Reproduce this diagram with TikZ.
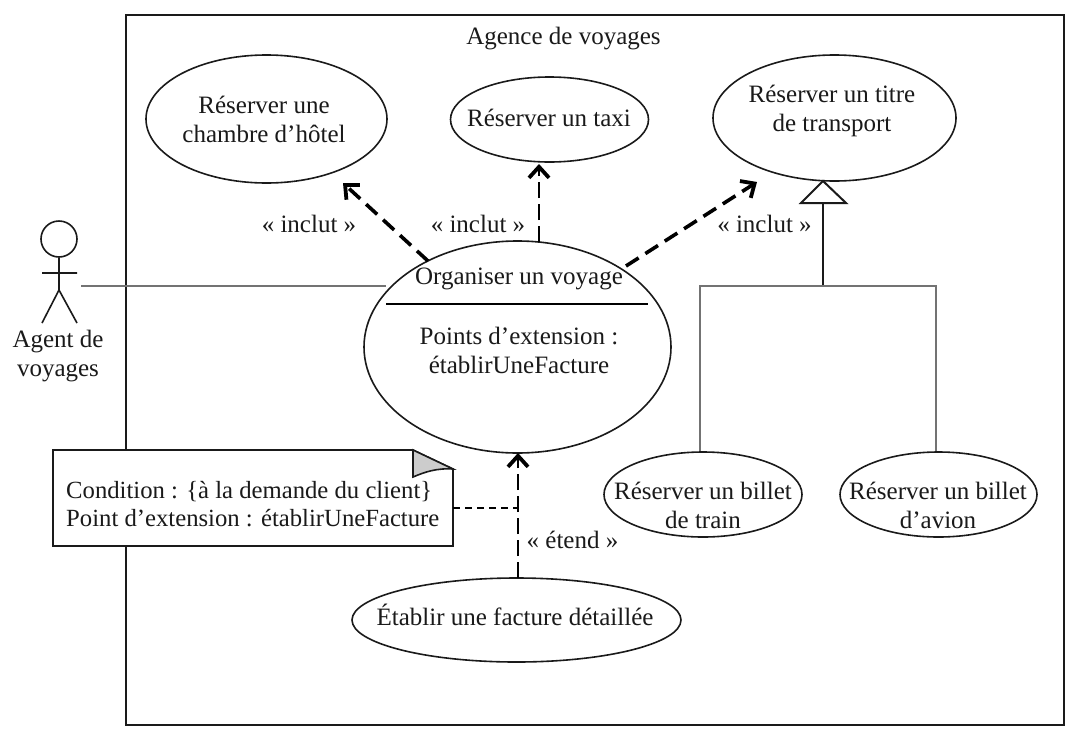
\documentclass[tikz,border=0pt]{standalone}
\usepackage{fontspec}
\setmainfont{Liberation Serif}
\usetikzlibrary{shapes.geometric,arrows.meta}
\definecolor{ink}{HTML}{1A1A1A}
\tikzset{
  x=1pt,y=-1pt,
  every node/.style={font=\fontsize{25}{29}\selectfont,text=ink},
  uc/.style={draw=ink,line width=1.6pt,ellipse,fill=white,inner sep=0pt,align=center},
  lab/.style={inner sep=0pt,align=center},
  dep/.style={draw=black,line width=3.6pt,dash pattern=on 15pt off 8pt,-{Straight Barb[length=11pt,width=20pt,line width=3.8pt]}},
  plain/.style={draw=ink,line width=1.6pt},
  assoc/.style={draw=black!55,line width=2pt},
}
\begin{document}
\begin{tikzpicture}
\useasboundingbox[fill=white] (0,0) rectangle (1065,731);
\node[draw=ink,line width=1.8pt,minimum width=938pt,minimum height=710pt,inner sep=0pt,anchor=north west] (sys) at (125,14) {};
\node[lab] (title) at (563.5,39) {Agence de voyages};

\node[uc,minimum width=241pt,minimum height=128pt] (hotel) at (266.5,119) {};
\node[lab] (hotelt) at (264,119) {Réserver une\\chambre d’hôtel};
\node[uc,minimum width=198pt,minimum height=85pt] (taxi) at (549.5,119.5) {};
\node[lab] (taxit) at (549,118) {Réserver un taxi};
\node[uc,minimum width=243pt,minimum height=126pt] (titre) at (834.5,118) {};
\node[lab] (titret) at (832,111) {Réserver un titre\\de transport};

\node[uc,minimum width=307pt,minimum height=212pt] (org) at (517.5,347) {};
\node[lab] (orgt) at (519,279) {Organiser un voyage};
\coordinate (sl) at (386,304);
\coordinate (sr) at (648,304);
\draw[draw=black,line width=1.6pt] (sl) -- (sr);
\node[lab] (pts) at (519,350) {Points d’extension :\\établirUneFacture};

\node[uc,minimum width=198pt,minimum height=85pt] (train) at (703,494.5) {};
\node[lab] (traint) at (703,505) {Réserver un billet\\de train};
\node[uc,minimum width=197pt,minimum height=85pt] (avion) at (938.5,494.5) {};
\node[lab] (aviont) at (938,505) {Réserver un billet\\d’avion};
\node[uc,minimum width=329pt,minimum height=84pt] (fact) at (516.5,620) {};
\node[lab] (factt) at (515,615) {Établir une facture détaillée};

% actor
\node[circle,draw=ink,line width=1.6pt,minimum size=36pt,inner sep=0pt] (head) at (59,239) {};
\coordinate (hip) at (59,290);
\coordinate (armL) at (42,273);
\coordinate (armR) at (77,273);
\coordinate (legL) at (42,323);
\coordinate (legR) at (77,323);
\draw[plain] (head.south) -- (hip) (armL) -- (armR) (legL) -- (hip) -- (legR);
\node[lab] (agent) at (58,356) {Agent de\\voyages};

% association
\coordinate (assA) at (81,286);
\coordinate (assB) at (386,286);
\draw[assoc] (assA) -- (assB);

% includes
\coordinate (i1s) at (428,261);
\coordinate (i1e) at (343,183);
\coordinate (i2s) at (539,242);
\coordinate (i2e) at (539,164);
\coordinate (i3s) at (626,266);
\coordinate (i3e) at (757,182);
\draw[dep] (i1s) -- (i1e);
\draw[dep,line width=2.6pt,dash pattern=on 16pt off 6pt] (i2s) -- (i2e);
\draw[dep] (i3s) -- (i3e);
\node[lab] (l1) at (309,224) {« inclut »};
\node[lab] (l2) at (478,224) {« inclut »};
\node[lab] (l3) at (764.5,224) {« inclut »};

% extend
\coordinate (eS) at (518,578);
\coordinate (eE) at (518,453);
\draw[dep,line width=2.6pt,dash pattern=on 16pt off 6pt] (eS) -- (eE);
\node[lab] (l4) at (572.5,540) {« étend »};

% generalisation
\coordinate (gA) at (823,181);
\coordinate (gL) at (801,203);
\coordinate (gR) at (846,203);
\coordinate (gB) at (823,203);
\coordinate (gJ) at (823,286);
\coordinate (gT) at (700,286);
\coordinate (gU) at (936,286);
\draw[plain,line width=2pt,fill=white] (gA) -- (gL) -- (gR) -- cycle;
\draw[plain,line width=2pt] (gJ) -- (gB);
\draw[assoc] (train.north -| gT) -- (gT) -- (gU) -- (avion.north -| gU);

% note
\coordinate (n1) at (53,450);
\coordinate (n2) at (413,450);
\coordinate (n3) at (453,469);
\coordinate (n4) at (453,546);
\coordinate (n5) at (53,546);
\coordinate (n6) at (413,477);
\draw[plain,fill=white] (n1) -- (n2) -- (n3) -- (n4) -- (n5) -- cycle;
\draw[plain,fill=black!20] (n2) -- (n3) .. controls (436,468) and (425,472) .. (n6) -- cycle;
\node[lab,anchor=west,align=left,font=\fontsize{24.7}{28}\selectfont] (notet) at (66,504) {Condition : \{à la demande du client\}\\Point d’extension : établirUneFacture};
\coordinate (dA) at (453,508);
\coordinate (dB) at (517,508);
\draw[draw=black,line width=1.5pt,dash pattern=on 7pt off 5pt] (dA) -- (dB);
\end{tikzpicture}
\end{document}
